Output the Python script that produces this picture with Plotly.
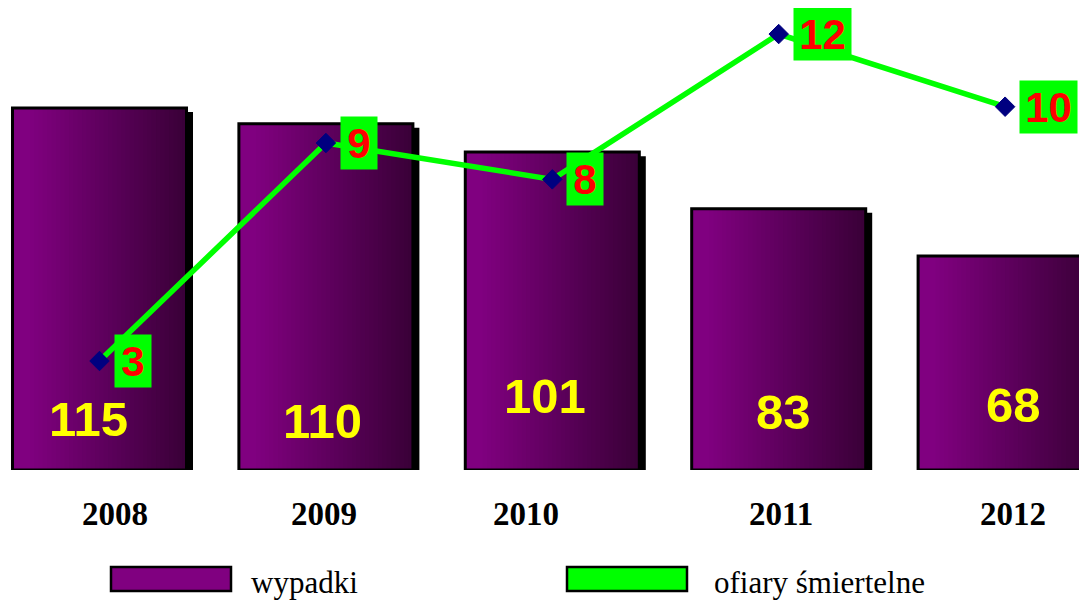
import plotly.graph_objects as go

# ---- data ----
years = ["2008", "2009", "2010", "2011", "2012"]
wypadki = [115, 110, 101, 83, 68]
ofiary = [3, 9, 8, 12, 10]
series_names = ["wypadki", "ofiary śmiertelne"]

# ---- style ----
OFF = 8                      # browser body margin
W, H = 1087 - OFF, 601 - OFF
PLOT_BOTTOM = 470 - OFF      # in figure pixels
PX_PER_BAR_UNIT = 3.148
PX_PER_LINE_UNIT = 36.33
BAR_W = 0.7686
N_STRIPS = 40
C_LEFT = (128, 0, 128)
C_RIGHT = (56, 0, 54)
SHADOW_DX = 0.0287
SHADOW_DY = 1.3
# per-label pixel placement (x shift, height above base)
label_xshift = [-11.5, -3.5, -7, 5, 8]
label_yshift = [51, 49.5, 74, 58, 65]
year_xshift = [15.5, -2, -26.5, 2, 8]
year_yshift = -44

fig = go.Figure()
xi = list(range(len(years)))

# shadow
fig.add_trace(go.Bar(
    x=xi, y=[v - SHADOW_DY for v in wypadki], width=BAR_W,
    offset=-BAR_W / 2 + SHADOW_DX,
    marker=dict(color="black", line=dict(width=0)),
    hoverinfo="skip", showlegend=False))

# gradient strips
for k in range(N_STRIPS):
    pos = k / N_STRIPS
    t = max(0.0, (pos - 0.08) / 0.92)
    col = "rgb(%d,%d,%d)" % tuple(round(a + (b - a) * t) for a, b in zip(C_LEFT, C_RIGHT))
    fig.add_trace(go.Bar(
        x=xi, y=wypadki, width=BAR_W * (1 - pos),
        offset=-BAR_W / 2 + BAR_W * pos,
        marker=dict(color=col, line=dict(width=0)),
        hoverinfo="skip", showlegend=False))

# outline
fig.add_trace(go.Bar(
    x=xi, y=wypadki, width=BAR_W, offset=-BAR_W / 2, name=series_names[0],
    marker=dict(color="rgba(0,0,0,0)", line=dict(color="black", width=3)),
    showlegend=False))

# line
fig.add_trace(go.Scatter(
    x=xi, y=ofiary, yaxis="y2", mode="lines+markers", name=series_names[1],
    line=dict(color="#00ff00", width=5.5),
    marker=dict(symbol="diamond", size=15, color="#000080",
                line=dict(color="#000080", width=1)),
    showlegend=False))

annotations = []
for i, v in enumerate(wypadki):
    annotations.append(dict(
        x=i, y=0, xref="x", yref="y", text=str(v), showarrow=False,
        xshift=label_xshift[i], yshift=label_yshift[i],
        xanchor="center", yanchor="middle",
        font=dict(family="Liberation Sans", size=49, color="#ffff00", weight="bold")))

for i, v in enumerate(ofiary):
    annotations.append(dict(
        x=i, y=v, xref="x", yref="y2", text=str(v), showarrow=False,
        xanchor="left", yanchor="middle", xshift=14,
        width=36 if len(str(v)) == 1 else 57, height=52,
        bgcolor="#00ff00", borderpad=0, align="center", valign="middle",
        font=dict(family="Liberation Sans", size=42, color="#ff0000", weight="bold")))

for i, yr in enumerate(years):
    annotations.append(dict(
        x=i, y=0, xref="x", yref="y", text=yr, showarrow=False,
        xshift=year_xshift[i], yshift=year_yshift,
        xanchor="center", yanchor="middle",
        font=dict(family="Liberation Serif", size=33, color="black", weight="bold")))


def pxx(p):
    return (p - OFF) / W


def pxy(p):
    return (PLOT_BOTTOM - (p - OFF)) / PLOT_BOTTOM


shapes = [
    dict(type="rect", xref="paper", yref="paper",
         x0=pxx(111), x1=pxx(231), y0=pxy(591), y1=pxy(567),
         fillcolor="#800080", line=dict(color="black", width=2.5)),
    dict(type="rect", xref="paper", yref="paper",
         x0=pxx(567), x1=pxx(687), y0=pxy(591), y1=pxy(567),
         fillcolor="#00ff00", line=dict(color="black", width=2.5)),
]
for name, xp in zip(series_names, [250, 713]):
    annotations.append(dict(
        x=pxx(xp), y=pxy(582), xref="paper", yref="paper", text=name,
        showarrow=False, xanchor="left", yanchor="middle", borderpad=0,
        font=dict(family="Liberation Serif", size=31, color="black")))

fig.update_layout(
    width=W, height=H,
    margin=dict(l=0, r=0, t=0, b=H - PLOT_BOTTOM, pad=0),
    paper_bgcolor="white", plot_bgcolor="white",
    barmode="overlay", showlegend=False,
    xaxis=dict(range=[(OFF - 99.5) / 226.4, (1087 - 99.5) / 226.4],
               showgrid=False, showline=False, zeroline=False, ticks="",
               showticklabels=False),
    yaxis=dict(range=[0, PLOT_BOTTOM / PX_PER_BAR_UNIT], visible=False, showgrid=False),
    yaxis2=dict(range=[0, PLOT_BOTTOM / PX_PER_LINE_UNIT], overlaying="y",
                visible=False, showgrid=False),
    annotations=annotations, shapes=shapes,
)

fig.write_html("out.html")
